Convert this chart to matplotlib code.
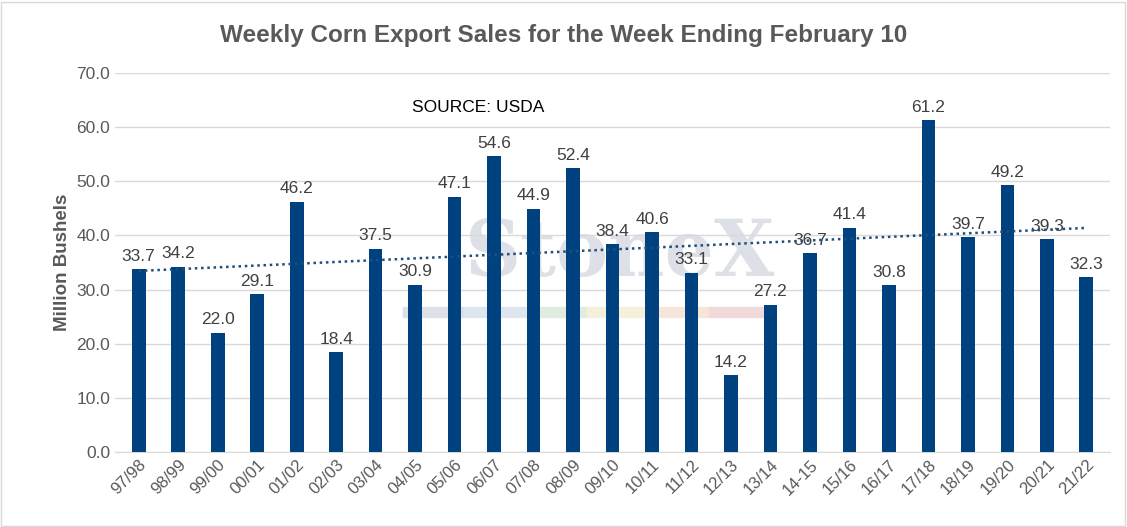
import numpy as np
import matplotlib.pyplot as plt
from matplotlib.patches import Rectangle

plt.rcParams['font.family'] = ['Liberation Sans', 'DejaVu Sans']

years = ["97/98", "98/99", "99/00", "00/01", "01/02", "02/03", "03/04", "04/05",
         "05/06", "06/07", "07/08", "08/09", "09/10", "10/11", "11/12", "12/13",
         "13/14", "14-15", "15/16", "16/17", "17/18", "18/19", "19/20", "20/21", "21/22"]
sales = [33.7, 34.2, 22.0, 29.1, 46.2, 18.4, 37.5, 30.9, 47.1, 54.6, 44.9, 52.4,
         38.4, 40.6, 33.1, 14.2, 27.2, 36.7, 41.4, 30.8, 61.2, 39.7, 49.2, 39.3, 32.3]

BAR = "#004280"
GRID = "#d9d9d9"
TXT = "#595959"

fig = plt.figure(figsize=(11.27, 5.27), dpi=100)
ax = fig.add_axes([0.102, 0.142, 0.883, 0.72])
fig.patches.append(Rectangle((0.001, 0.002), 0.997, 0.995, transform=fig.transFigure,
                             fill=False, edgecolor="#d9d9d9", lw=1))

x = np.arange(len(years))
ax.bar(x, sales, width=0.35, color=BAR, zorder=3)
for xi, v in zip(x, sales):
    ax.text(xi, v + 1.0, f"{v:.1f}", ha="center", va="bottom", fontsize=12.5,
            color="#404040", zorder=4)

# linear trendline
k, b = np.polyfit(x, sales, 1)
ax.plot(x, k * x + b, color="#1f4e79", lw=1.8, ls=(0, (1, 1.5)), zorder=4)

# faint watermark behind the bars
ax.text(12.2, 36.5, "StoneX", ha="center", va="center", fontsize=56, family="serif",
        color="#dde0e6", fontweight="bold", zorder=1)
wm_cols = ["#dde0e6", "#dde6ee", "#e0ece0", "#f4f0dc", "#f6e6d8", "#f2dada"]
for i, c in enumerate(wm_cols):
    ax.add_patch(Rectangle((6.7 + i * 1.55, 25.0), 1.55, 1.8, color=c, zorder=1))

ax.set_xlim(-0.6, len(years) - 0.4)
ax.set_ylim(0, 70)
ax.set_yticks(np.arange(0, 71, 10))
ax.set_yticklabels([f"{t:.1f}" for t in np.arange(0, 71, 10)], fontsize=12.5, color=TXT)
ax.set_xticks(x)
ax.set_xticklabels(years, rotation=45, ha="right", rotation_mode="anchor",
                   fontsize=12, color=TXT)
ax.yaxis.grid(True, color=GRID, lw=1, zorder=0)
ax.tick_params(length=0)
for s in ["top", "right", "left"]:
    ax.spines[s].set_visible(False)
ax.spines["bottom"].set_color(GRID)

ax.set_ylabel("Million Bushels", fontsize=13.5, fontweight="bold", color=TXT)
ax.text(8.6, 63.5, "SOURCE: USDA", fontsize=12.5, color="black", va="center", ha="center")
fig.suptitle("Weekly Corn Export Sales for the Week Ending February 10", y=0.955,
             fontsize=17.5, fontweight="bold", color=TXT)

fig.savefig("out.png", dpi=100)
